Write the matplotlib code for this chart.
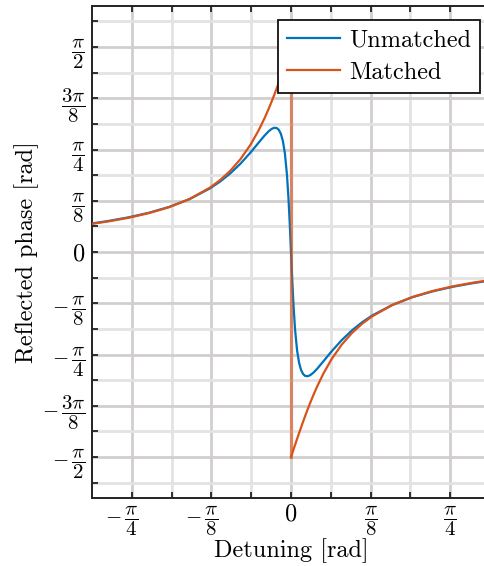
import numpy as np
import matplotlib
matplotlib.use("Agg")
import matplotlib.pyplot as plt
from matplotlib.ticker import FixedLocator, FixedFormatter
from matplotlib.transforms import ScaledTranslation

plt.rcParams["mathtext.fontset"] = "cm"
plt.rcParams["font.family"] = "cmr10"
plt.rcParams["axes.formatter.use_mathtext"] = True

# Detuning (rad); the zero point appears twice to carry the phase jump
detuning = [
    -0.98, -0.90, -0.80, -0.70, -0.60, -0.50, -0.40, -0.35, -0.30, -0.25,
    -0.20, -0.16, -0.13, -0.11, -0.095, -0.082, -0.07, -0.06, -0.05, -0.04,
    -0.03, -0.02, -0.012, -0.006, 0.0,
    0.0, 0.006, 0.012, 0.02, 0.03, 0.04, 0.05, 0.06, 0.07, 0.082,
    0.095, 0.11, 0.13, 0.16, 0.20, 0.25, 0.30, 0.35, 0.40, 0.50,
    0.60, 0.70, 0.80, 0.90, 0.98,
]

# Reflected phase (rad)
unmatched = [
    0.2195, 0.2380, 0.2660, 0.3010, 0.3460, 0.4056, 0.4871, 0.5394, 0.6017, 0.6756,
    0.7618, 0.8373, 0.8930, 0.9253, 0.9436, 0.9519, 0.9495, 0.9358, 0.9058, 0.8504,
    0.7543, 0.5932, 0.3986, 0.2110, 0.0,
    0.0, -0.2110, -0.3986, -0.5932, -0.7543, -0.8504, -0.9058, -0.9358, -0.9495, -0.9519,
    -0.9436, -0.9253, -0.8930, -0.8373, -0.7618, -0.6756, -0.6017, -0.5394, -0.4871, -0.4056,
    -0.3460, -0.3010, -0.2660, -0.2380, -0.2195,
]
matched = [
    0.2160, 0.2345, 0.2626, 0.2982, 0.3440, 0.4062, 0.4933, 0.5508, 0.6218, 0.7102,
    0.8214, 0.9310, 1.0269, 1.0979, 1.1547, 1.2065, 1.2557, 1.2984, 1.3423, 1.3869,
    1.4321, 1.4781, 1.5150, 1.5429, 1.5708,
    -1.5708, -1.5429, -1.5150, -1.4781, -1.4321, -1.3869, -1.3423, -1.2984, -1.2557, -1.2065,
    -1.1547, -1.0979, -1.0269, -0.9310, -0.8214, -0.7102, -0.6218, -0.5508, -0.4933, -0.4062,
    -0.3440, -0.2982, -0.2626, -0.2345, -0.2160,
]

x_tick_labels = [r"$-\,\dfrac{\pi}{4}$", r"$-\,\dfrac{\pi}{8}$", r"$0$",
                 r"$\dfrac{\pi}{8}$", r"$\dfrac{\pi}{4}$"]
y_tick_labels = [r"$-\,\dfrac{\pi}{2}$", r"$-\,\dfrac{3\pi}{8}$", r"$-\,\dfrac{\pi}{4}$",
                 r"$-\,\dfrac{\pi}{8}$", r"$0$", r"$\dfrac{\pi}{8}$", r"$\dfrac{\pi}{4}$",
                 r"$\dfrac{3\pi}{8}$", r"$\dfrac{\pi}{2}$"]

BLUE = (0.0, 0.447, 0.741)
ORANGE = (0.850, 0.325, 0.098)
FS = 17.5
FRAC_FS = 15

W, H = 485, 566
fig = plt.figure(figsize=(W / 100, H / 100), dpi=100)
ax = fig.add_axes([92 / W, 1 - 498 / H, (490 - 92) / W, (498 - 6) / H])

x = np.array(detuning)
u = np.array(unmatched)
m = np.array(matched)
jump = np.where(np.diff(m) < -2)[0][0]

ax.plot(x, u, color=BLUE, lw=1.6, zorder=3, label="Unmatched")
ax.plot(x[: jump + 1], m[: jump + 1], color=ORANGE, lw=1.6, zorder=4, label="Matched")
ax.plot(x[jump + 1:], m[jump + 1:], color=ORANGE, lw=1.6, zorder=4)
ax.plot(x[jump:jump + 2], m[jump:jump + 2], color=ORANGE, lw=2.3, alpha=0.6, zorder=4)

q = np.pi / 16
ax.set_xlim(-5 * q, 5 * q)
ax.set_ylim(-0.6 * np.pi, 0.6 * np.pi)

ax.xaxis.set_major_locator(FixedLocator([k * q for k in (-4, -2, 0, 2, 4)]))
ax.xaxis.set_major_formatter(FixedFormatter(x_tick_labels))
ax.xaxis.set_minor_locator(FixedLocator([k * q for k in (-3, -1, 1, 3)]))
ax.yaxis.set_major_locator(FixedLocator([k * q for k in range(-8, 9, 2)]))
ax.yaxis.set_major_formatter(FixedFormatter(y_tick_labels))
ax.yaxis.set_minor_locator(FixedLocator([k * q for k in range(-9, 10, 2)]))

ax.grid(True, which="major", color="#d2cece", lw=2.0, zorder=0)
ax.grid(True, which="minor", color="#e4e2e2", lw=2.0, zorder=0)
ax.set_axisbelow(True)

for side in ("left", "bottom", "top", "right"):
    ax.spines[side].set_linewidth(1.4)
    ax.spines[side].set_color("#222222")
ax.tick_params(which="both", direction="in", top=True, right=True,
               length=4, width=1.3, color="#222222", labelsize=FRAC_FS)
ax.tick_params(axis="x", pad=4)
ax.tick_params(axis="y", pad=5)

ax.set_xlabel(r"Detuning [rad]", fontsize=FS, labelpad=0)
ax.set_ylabel(r"Reflected phase [rad]", fontsize=FS, labelpad=2)

leg = ax.legend(loc="upper right", bbox_to_anchor=(480 / W, 1 - 20 / H),
                bbox_transform=fig.transFigure, borderaxespad=0,
                fontsize=FS, fancybox=False, framealpha=1, edgecolor="#111111",
                handlelength=2.2, handletextpad=0.35, labelspacing=0.42,
                borderpad=0.38)
leg.get_frame().set_linewidth(1.3)
leg.set_zorder(10)

fig.canvas.draw()
for lab in ax.get_xticklabels() + ax.get_yticklabels():
    if lab.get_text() == "$0$":
        lab.set_fontsize(FS)
# keep the fraction of a negative x label centred on its tick, sign hanging left
shift = ScaledTranslation(-10 / 100, 0, fig.dpi_scale_trans)
for lab in ax.get_xticklabels():
    if lab.get_text().startswith("$-"):
        lab.set_transform(lab.get_transform() + shift)

fig.savefig("out.png", dpi=100)
